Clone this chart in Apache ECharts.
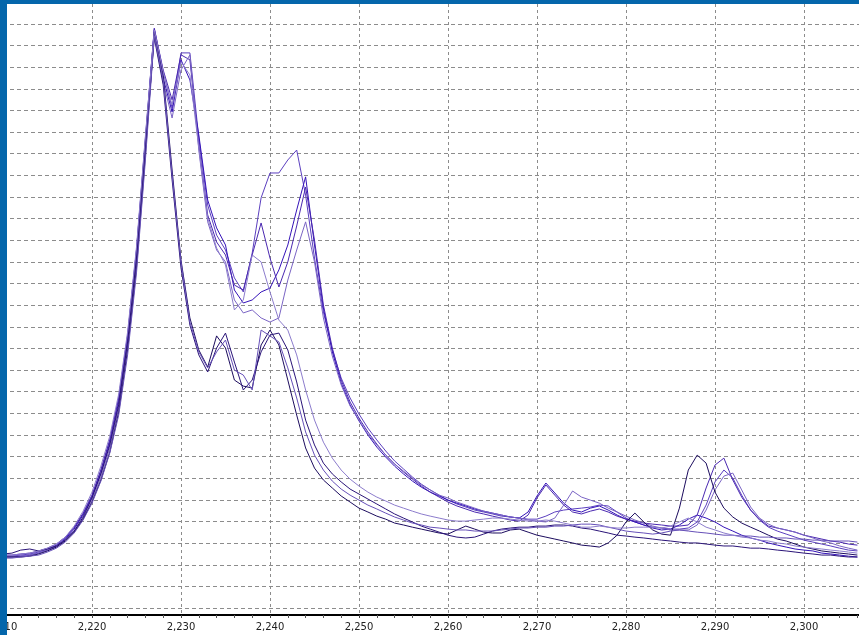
<!DOCTYPE html>
<html><head><meta charset="utf-8">
<script src="https://cdn.jsdelivr.net/npm/echarts@6/dist/echarts.min.js"></script>
<style>
html,body{margin:0;padding:0;width:859px;height:635px;overflow:hidden;background:#0466ab;}
#chart{position:absolute;left:7px;top:4px;width:852px;height:631px;background:#ffffff;}
</style></head><body><div id="chart"></div>
<script>
const wavelengths = [2210,2211,2212,2213,2214,2215,2216,2217,2218,2219,
2220,2221,2222,2223,2224,2225,2226,2227,2228,2229,
2230,2231,2232,2233,2234,2235,2236,2237,2238,2239,
2240,2241,2242,2243,2244,2245,2246,2247,2248,2249,
2250,2251,2252,2253,2254,2255,2256,2257,2258,2259,
2260,2261,2262,2263,2264,2265,2266,2267,2268,2269,
2270,2271,2272,2273,2274,2275,2276,2277,2278,2279,
2280,2281,2282,2283,2284,2285,2286,2287,2288,2289,
2290,2291,2292,2293,2294,2295,2296,2297,2298,2299,
2300,2301,2302,2303,2304,2305,2306];

const spectrum1 = [2.40,2.40,2.45,2.50,2.59,2.73,2.91,3.24,3.70,4.35,
5.18,6.38,7.77,9.71,12.62,16.55,21.73,26.81,24.78,23.12,
25.66,25.66,21.73,18.63,17.24,16.55,15.26,14.61,16.41,18.96,
20.11,20.11,20.71,21.17,19.09,16.18,13.68,11.93,10.63,9.71,
8.97,8.32,7.77,7.26,6.80,6.43,6.06,5.73,5.46,5.22,
4.99,4.81,4.67,4.53,4.44,4.35,4.25,4.21,4.16,4.11,
4.11,4.25,4.44,4.53,4.58,4.62,4.67,4.76,4.72,4.44,
4.16,3.98,3.84,3.74,3.70,3.65,3.65,3.70,3.98,4.76,
5.83,6.38,6.01,5.22,4.53,4.07,3.74,3.56,3.42,3.28,
3.14,3.05,2.96,2.87,2.77,2.68,2.64];

const spectrum2 = [2.36,2.36,2.40,2.45,2.54,2.68,2.87,3.19,3.65,4.30,
5.13,6.24,7.63,9.52,12.39,16.32,21.54,26.72,24.50,22.93,
25.34,24.41,21.87,18.86,17.57,16.78,14.70,14.10,14.24,14.61,
14.79,15.63,16.78,18.40,19.93,16.78,13.87,11.84,10.40,9.39,
8.65,8.00,7.44,6.98,6.56,6.20,5.87,5.59,5.36,5.18,
4.99,4.85,4.72,4.58,4.48,4.39,4.30,4.21,4.16,4.44,
5.18,5.78,5.32,4.85,4.53,4.44,4.62,4.72,4.53,4.30,
4.11,3.98,3.84,3.70,3.61,3.65,3.84,4.11,4.30,4.16,
3.98,3.74,3.56,3.37,3.24,3.14,3.01,2.91,2.82,2.73,
2.68,2.64,2.54,2.50,2.45,2.40,2.36];

const spectrum3 = [2.45,2.45,2.50,2.54,2.64,2.77,2.96,3.28,3.74,4.39,
5.22,6.38,7.77,9.71,12.58,16.55,21.64,26.77,24.87,23.49,
25.57,25.34,21.41,18.17,16.92,16.32,14.93,14.70,16.32,17.80,
16.18,14.84,16.00,17.66,19.46,17.01,14.01,12.02,10.54,9.52,
8.78,8.14,7.58,7.07,6.66,6.29,5.96,5.64,5.36,5.13,
4.90,4.72,4.58,4.44,4.35,4.25,4.16,4.07,4.02,4.30,
5.09,5.69,5.22,4.76,4.44,4.35,4.48,4.58,4.44,4.25,
4.11,4.02,3.93,3.88,3.84,3.79,3.79,3.84,4.30,5.55,
6.61,6.93,5.92,5.13,4.53,4.11,3.79,3.70,3.61,3.51,
3.37,3.28,3.19,3.10,3.05,2.96,2.91];

const spectrum4 = [2.40,2.40,2.40,2.45,2.54,2.68,2.82,3.14,3.56,4.16,
4.99,6.06,7.40,9.25,12.16,16.00,21.17,26.49,24.32,22.65,
24.87,25.57,21.17,17.85,16.55,16.00,14.24,13.64,13.78,13.41,
13.22,13.41,15.16,16.55,17.85,16.00,13.41,11.65,10.31,9.34,
8.69,8.04,7.54,7.07,6.66,6.33,6.01,5.69,5.46,5.22,
5.09,4.90,4.76,4.62,4.48,4.39,4.30,4.21,4.16,4.07,
4.02,3.98,4.16,4.76,5.41,5.13,4.99,4.85,4.62,4.44,
4.25,4.07,3.93,3.79,3.70,3.61,3.61,3.61,3.84,4.53,
5.46,6.10,6.24,5.46,4.67,4.16,3.88,3.70,3.61,3.51,
3.37,3.24,3.10,3.01,2.87,2.77,2.68];

const spectrum5 = [2.36,2.36,2.36,2.40,2.50,2.64,2.82,3.10,3.51,4.11,
4.90,5.92,7.21,9.06,11.93,15.72,20.94,26.63,24.64,20.25,
16.09,13.41,11.93,11.14,12.58,12.02,10.54,10.26,10.17,12.16,
12.85,12.16,10.54,8.92,7.40,6.47,5.92,5.55,5.18,4.90,
4.62,4.44,4.25,4.11,3.93,3.84,3.74,3.65,3.56,3.47,
3.42,3.61,3.79,3.65,3.51,3.47,3.47,3.61,3.65,3.51,
3.37,3.28,3.19,3.10,3.01,2.91,2.87,2.82,3.01,3.37,
3.98,4.39,3.98,3.61,3.42,3.37,4.62,6.38,7.07,6.70,
5.36,4.62,4.21,3.93,3.74,3.56,3.37,3.19,3.10,2.96,
2.82,2.73,2.64,2.59,2.54,2.50,2.45];

const spectrum6 = [2.50,2.54,2.68,2.73,2.64,2.73,2.87,3.14,3.56,4.21,
5.09,6.20,7.54,9.39,12.30,16.18,21.41,26.35,24.18,19.79,
15.72,13.08,11.70,10.91,12.02,12.71,11.37,10.08,10.54,11.84,
12.62,12.71,11.93,10.45,8.69,7.54,6.70,6.20,5.83,5.50,
5.27,5.04,4.81,4.58,4.35,4.16,3.98,3.79,3.65,3.51,
3.37,3.28,3.24,3.28,3.42,3.56,3.65,3.70,3.74,3.74,
3.79,3.79,3.84,3.84,3.79,3.70,3.65,3.56,3.47,3.37,
3.33,3.28,3.24,3.19,3.14,3.10,3.05,3.01,3.01,2.96,
2.91,2.87,2.87,2.82,2.77,2.77,2.73,2.68,2.64,2.59,
2.54,2.50,2.45,2.45,2.40,2.36,2.36];

const spectrum7 = [2.31,2.31,2.36,2.40,2.45,2.59,2.77,3.05,3.47,4.07,
4.85,5.87,7.17,8.92,11.70,15.49,20.71,26.45,24.41,20.02,
16.00,13.22,11.84,11.10,11.84,12.39,11.00,10.77,10.08,12.85,
12.58,12.30,11.10,9.71,8.14,7.07,6.38,5.87,5.50,5.22,
4.99,4.76,4.58,4.39,4.21,4.07,3.93,3.84,3.74,3.70,
3.65,3.61,3.61,3.56,3.56,3.56,3.61,3.65,3.70,3.70,
3.74,3.74,3.79,3.79,3.84,3.88,3.88,3.84,3.74,3.65,
3.56,3.51,3.47,3.42,3.47,3.56,3.61,3.56,3.51,3.47,
3.42,3.37,3.37,3.33,3.33,3.28,3.28,3.24,3.24,3.19,
3.19,3.14,3.14,3.10,3.10,3.10,3.05];

const spectrum8 = [2.45,2.45,2.50,2.54,2.64,2.77,2.96,3.28,3.79,4.48,
5.36,6.56,7.95,9.89,12.76,16.69,21.82,26.72,24.78,23.25,
25.24,24.64,21.27,18.03,16.64,15.86,13.78,14.24,16.32,16.00,
14.61,13.31,12.85,11.70,10.08,8.69,7.67,6.93,6.38,5.96,
5.64,5.36,5.13,4.95,4.76,4.62,4.48,4.35,4.25,4.16,
4.07,4.02,4.02,4.07,4.11,4.16,4.16,4.11,4.07,4.02,
4.02,4.07,4.02,3.93,3.84,3.74,3.74,3.79,3.74,3.70,
3.70,3.74,3.74,3.74,3.70,3.79,3.98,4.16,3.98,3.74,
3.61,3.47,3.37,3.28,3.24,3.14,3.10,3.01,2.96,2.87,
2.82,2.77,2.73,2.68,2.64,2.59,2.54];

const seriesNames = ['Spectrum 1','Spectrum 2','Spectrum 3','Spectrum 4','Spectrum 5','Spectrum 6','Spectrum 7','Spectrum 8'];
const seriesValues = [spectrum1,spectrum2,spectrum3,spectrum4,spectrum5,spectrum6,spectrum7,spectrum8];
const seriesColors = ['#5b3fbf','#3412b8','#4a28b0','#7a64c4','#1c0c5e','#2a1478','#6650b8','#8c7ccc'];

function fmt(v){
  const t = Math.round(v);
  const th = Math.floor(t/1000);
  const r = String(t%1000).padStart(3,'0');
  return th + ',' + r;
}

const chart = echarts.init(document.getElementById('chart'), null, {renderer:'canvas'});
chart.setOption({
  animation:false,
  backgroundColor:'#ffffff',
  grid:{left:-4, right:0, top:0, bottom:20, containLabel:false, outerBoundsMode:'none'},
  xAxis:{
    type:'value', min:2210, max:2306.18, interval:10,
    axisLine:{show:true, onZero:false, lineStyle:{color:'#000000', width:2}},
    axisTick:{show:true, length:3, lineStyle:{color:'#444444'}},
    minorTick:{show:true, splitNumber:5, length:3, lineStyle:{color:'#555555'}},
    axisLabel:{show:true, margin:7, color:'#222222', fontFamily:'DejaVu Sans', fontSize:10,
      showMinLabel:true, showMaxLabel:false, formatter:fmt},
    splitLine:{show:true, showMinLine:false, showMaxLine:false,
      lineStyle:{color:'#8c8c8c', width:1, type:[3,3]}}
  },
  yAxis:{
    type:'value', min:-0.32, max:27.92, minInterval:1, maxInterval:1, splitNumber:28,
    axisLine:{show:false}, axisTick:{show:false}, axisLabel:{show:false},
    splitLine:{show:true, showMinLine:false, showMaxLine:false,
      lineStyle:{color:'#8c8c8c', width:1, type:[4,3]}}
  },
  series: seriesValues.map((vals, i) => ({
    name: seriesNames[i], type:'line', showSymbol:false, symbol:'none',
    data: wavelengths.map((w, j) => [w, vals[j]]),
    lineStyle:{color: seriesColors[i], width:1},
    itemStyle:{color: seriesColors[i]},
    clip:true
  }))
});
</script></body></html>
